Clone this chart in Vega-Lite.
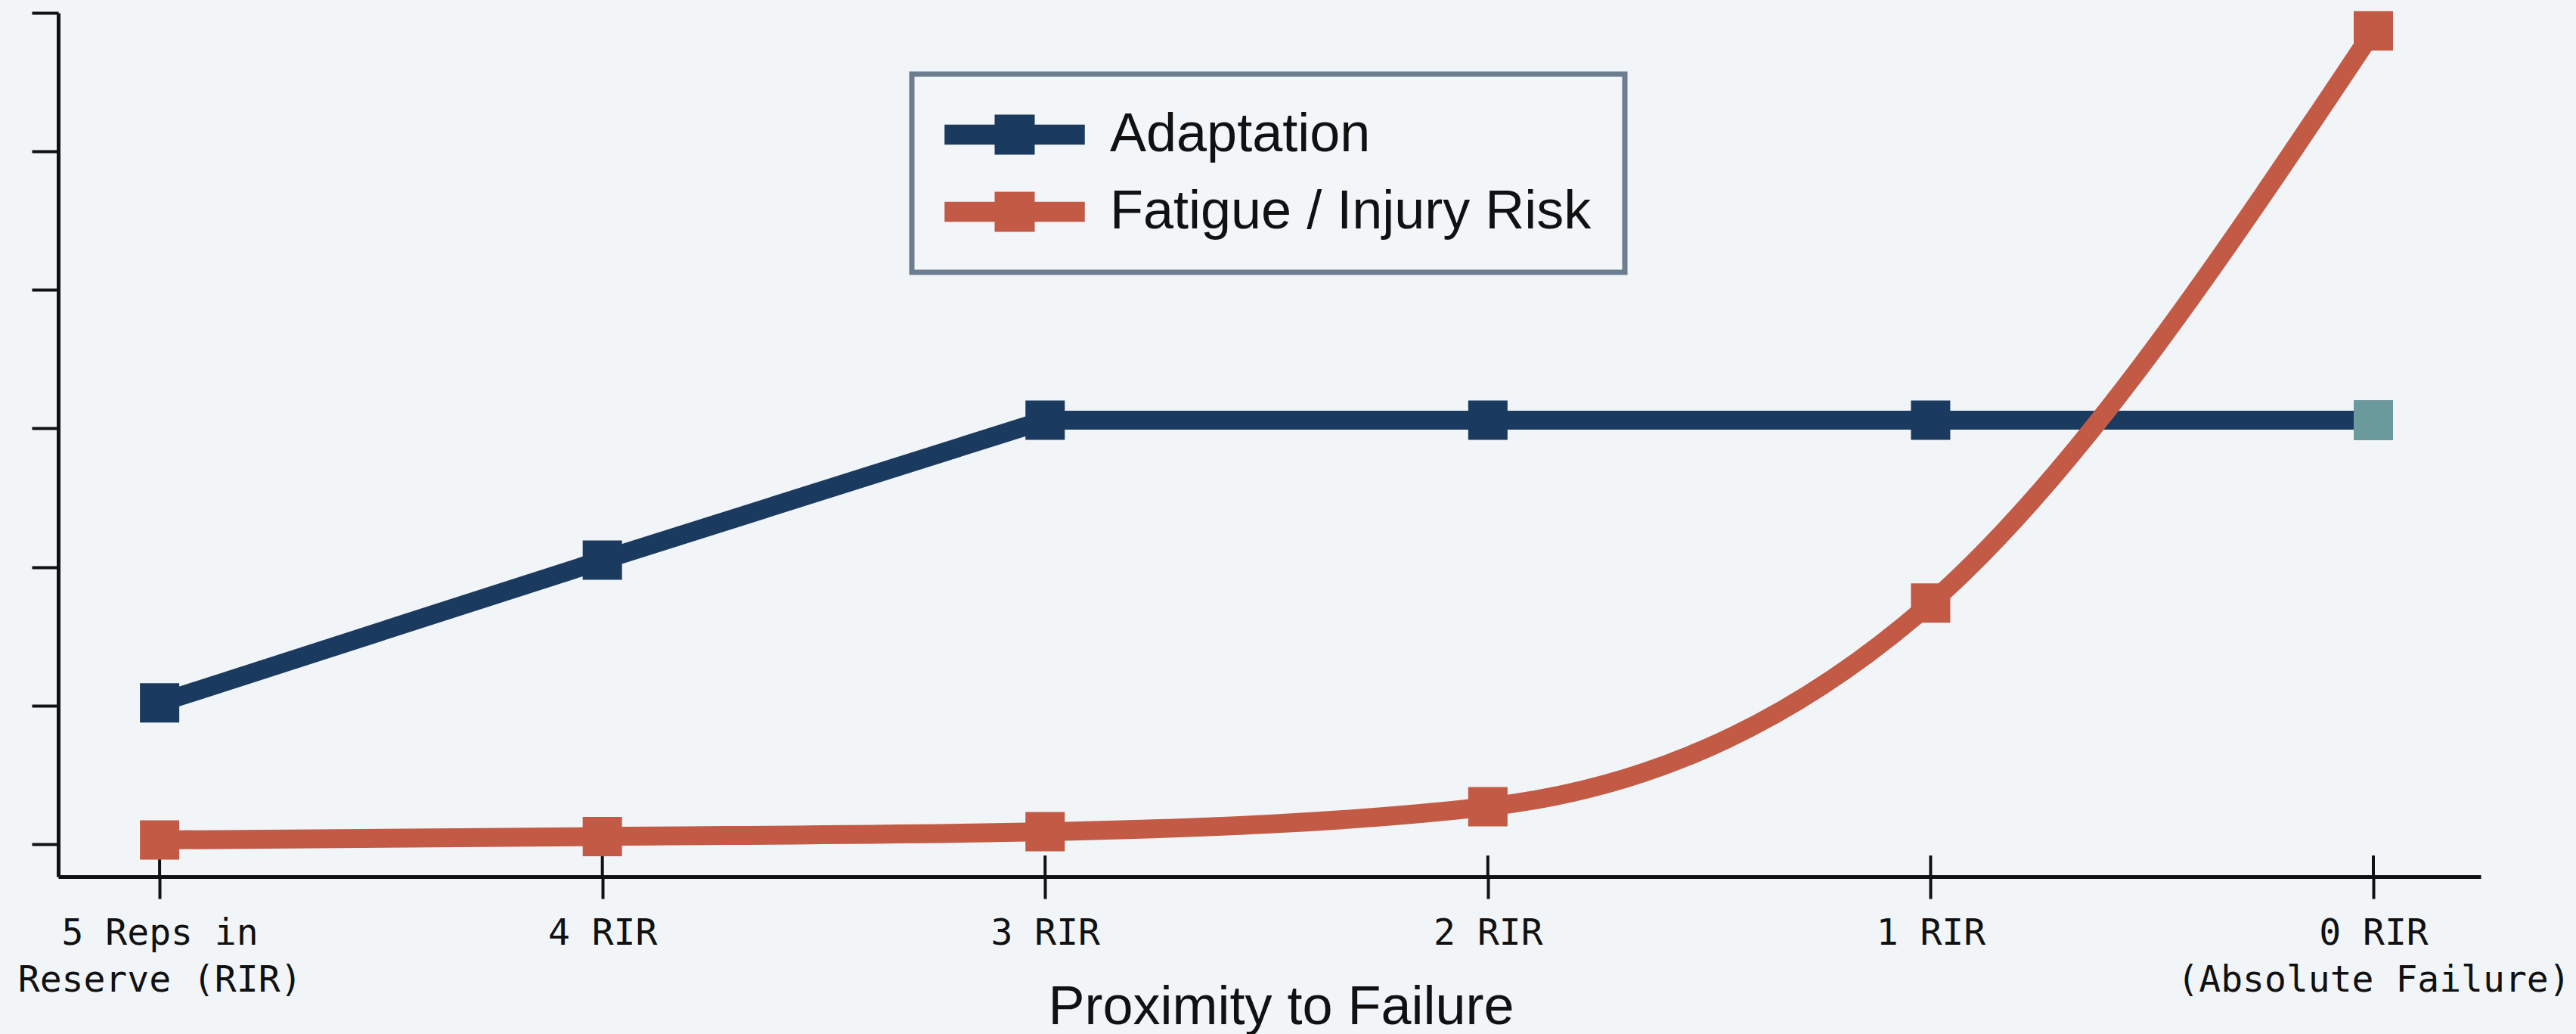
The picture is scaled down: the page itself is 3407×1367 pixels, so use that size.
{
  "$schema": "https://vega.github.io/schema/vega-lite/v6.json",
  "autosize": {"type": "none"},
  "padding": {"left": 77, "top": 17, "right": 126, "bottom": 208},
  "width": 3204,
  "height": 1142,
  "background": "#f1f5f8",
  "config": {"view": {"stroke": null}},
  "data": {
    "values": [
      {"series": "Adaptation", "rir": 5, "value": 1.02},
      {"series": "Adaptation", "rir": 4, "value": 2.05},
      {"series": "Adaptation", "rir": 3, "value": 3.06},
      {"series": "Adaptation", "rir": 2, "value": 3.06},
      {"series": "Adaptation", "rir": 1, "value": 3.06},
      {"series": "Adaptation", "rir": 0, "value": 3.06},
      {"series": "Fatigue / Injury Risk", "rir": 5, "value": 0.03},
      {"series": "Fatigue / Injury Risk", "rir": 4, "value": 0.055},
      {"series": "Fatigue / Injury Risk", "rir": 3, "value": 0.09},
      {"series": "Fatigue / Injury Risk", "rir": 2, "value": 0.27},
      {"series": "Fatigue / Injury Risk", "rir": 1, "value": 1.74},
      {"series": "Fatigue / Injury Risk", "rir": 0, "value": 5.87}
    ]
  },
  "encoding": {
    "x": {
      "field": "rir",
      "type": "quantitative",
      "scale": {"domain": [-0.2425, 5.229], "reverse": true, "nice": false, "zero": false},
      "axis": {
        "values": [5, 4, 3, 2, 1, 0],
        "labelExpr": "datum.value == 5 ? ['5 Reps in', 'Reserve (RIR)'] : datum.value == 0 ? ['0 RIR', '(Absolute Failure)'] : datum.value + ' RIR'",
        "title": "Proximity to Failure",
        "titleFont": "Liberation Sans",
        "titleFontSize": 72,
        "titleFontWeight": "normal",
        "titleColor": "#111111",
        "titleX": 1617,
        "titleY": 194,
        "titleAlign": "center",
        "titleBaseline": "alphabetic",
        "labelFont": "DejaVu Sans Mono",
        "labelFontSize": 48,
        "labelColor": "#111111",
        "labelLineHeight": 62,
        "labelPadding": 22,
        "labelBaseline": "top",
        "labelAlign": "center",
        "labelOverlap": false,
        "labelFlush": false,
        "labelBound": false,
        "labelLimit": 2000,
        "tickSize": 29,
        "tickWidth": 4,
        "tickColor": "#111111",
        "domainColor": "#111111",
        "domainWidth": 5,
        "grid": false
      }
    },
    "y": {
      "field": "value",
      "type": "quantitative",
      "scale": {"domain": [-0.235, 6], "nice": false, "zero": false},
      "axis": {
        "values": [0, 1, 2, 3, 4, 5, 6],
        "labels": false,
        "title": null,
        "tickSize": 35,
        "tickWidth": 4,
        "tickColor": "#111111",
        "domainColor": "#111111",
        "domainWidth": 5,
        "grid": false
      }
    }
  },
  "layer": [
    {
      "transform": [{"filter": "datum.series == 'Adaptation'"}],
      "mark": {"type": "rule", "color": "#111111", "strokeWidth": 4},
      "encoding": {
        "y": {"datum": -0.235},
        "y2": {"datum": -0.082}
      }
    },
    {
      "transform": [{"filter": "datum.series == 'Adaptation'"}],
      "mark": {"type": "line", "strokeWidth": 25, "interpolate": "linear", "color": "#1b3a5f"},
      "encoding": {
        "order": {"field": "rir", "sort": "descending"}
      }
    },
    {
      "transform": [{"filter": "datum.series == 'Fatigue / Injury Risk'"}],
      "mark": {"type": "line", "strokeWidth": 25, "interpolate": "monotone", "color": "#c25a45"},
      "encoding": {
        "order": {"field": "rir", "sort": "descending"}
      }
    },
    {
      "mark": {"type": "point", "shape": "square", "filled": true, "size": 2704, "opacity": 1},
      "encoding": {
        "color": {
          "field": "series",
          "type": "nominal",
          "scale": {"domain": ["Adaptation", "Fatigue / Injury Risk"], "range": ["#1b3a5f", "#c25a45"]},
          "legend": {
            "orient": "none",
            "legendX": 1129,
            "legendY": 81,
            "title": null,
            "symbolType": "M-3.5,-0.5H3.5V0.5H-3.5Z M-1,-1H1V1H-1Z",
            "symbolSize": 2809,
            "symbolStrokeWidth": 0,
            "symbolOpacity": 1,
            "symbolOffset": 56,
            "labelFont": "Liberation Sans",
            "labelFontSize": 72,
            "labelColor": "#111111",
            "labelOffset": 90,
            "labelLimit": 2000,
            "padding": 44,
            "rowPadding": 30,
            "strokeColor": "#6b7d8f",
            "fillColor": "#f3f6f9",
            "encode": {"legend": {"update": {"strokeWidth": {"value": 7}}}}
          }
        }
      }
    },
    {
      "transform": [{"filter": "datum.series == 'Adaptation' && datum.rir == 0"}],
      "mark": {"type": "point", "shape": "square", "filled": true, "size": 2704, "opacity": 1, "color": "#6b9a9c"}
    }
  ]
}
